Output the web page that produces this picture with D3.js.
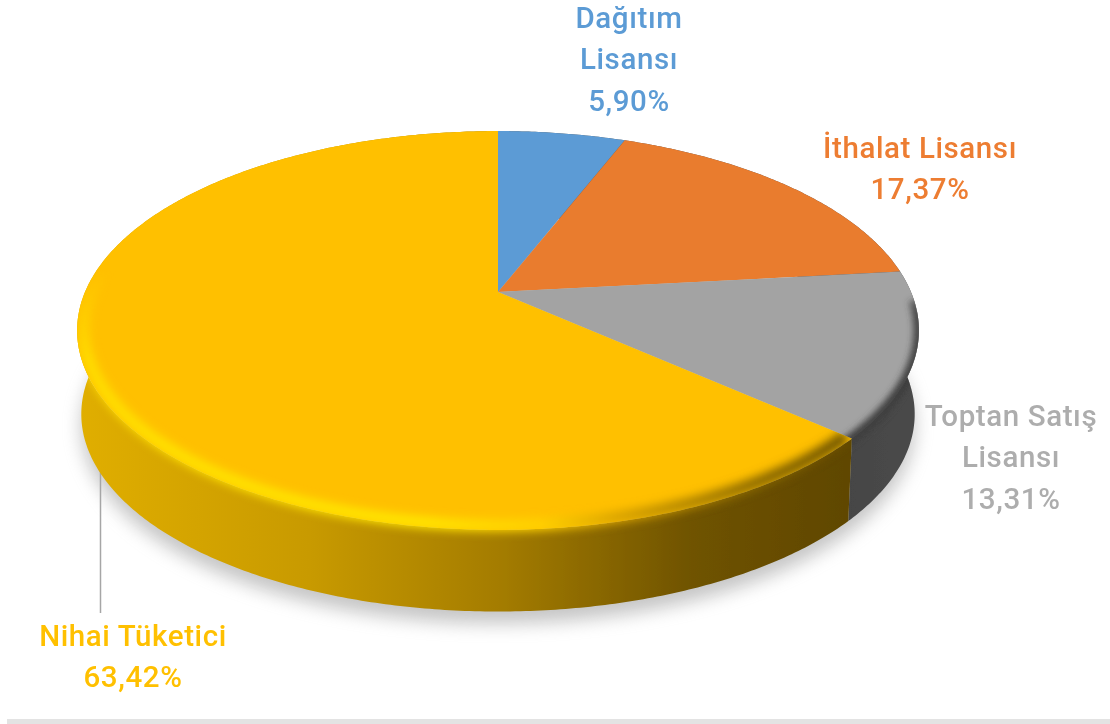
<!DOCTYPE html>
<html><head><meta charset="utf-8">
<script src="https://cdn.jsdelivr.net/npm/d3@7"></script>
<style>html,body{margin:0;padding:0;background:#fff}svg{display:block}text{font-family:Roboto,sans-serif;font-weight:500;font-size:29.5px;letter-spacing:0.6px}</style>
</head><body><svg id="c" width="1110" height="724"></svg>
<script>
const categories = ["Dağıtım Lisansı","İthalat Lisansı","Toptan Satış Lisansı","Nihai Tüketici"];
const values = [5.90,17.37,13.31,63.42];
const colors = ["#5b9bd5","#e97b2f","#a3a3a3","#ffc000"];
const labelLines = [["Dağıtım","Lisansı"],["İthalat Lisansı"],["Toptan Satış","Lisansı"],["Nihai Tüketici"]];
const labelColors = ["#5b9bd5","#ed7d31","#adadad","#ffc000"];
const labelAnchors = [[629,27.5],[920,157.5],[1011,425.5],[133,645.5]];

const W=1110,H=724, lineH=41.5;
const cx=498, cy=292, A=413, B=192, K=0.193, drop=84, shrink=0.99;
const svg=d3.select("#c");
const defs=svg.append("defs");
const fmt=d3.formatLocale({decimal:",",thousands:".",grouping:[3],currency:["","%"]}).format(".2f");

const arcs=d3.pie().sort(null).value(d=>d)(values);
function proj(a,r=1,s=1,dy=0){
  const x=r*Math.sin(a), y=-r*Math.cos(a), w=1-K*y;
  return [cx+s*A*x/w, cy+dy+s*B*y/w];
}
const line=d3.line();
const samples=(a0,a1)=>{const n=Math.max(2,Math.ceil((a1-a0)/0.01));return d3.range(n+1).map(i=>a0+(a1-a0)*i/n)};

function blur(id,sd){defs.append("filter").attr("id",id).attr("filterUnits","userSpaceOnUse").attr("x",0).attr("y",0).attr("width",W).attr("height",H)
  .append("feGaussianBlur").attr("stdDeviation",sd);}
blur("shadow",9);blur("bev",5);blur("bev2",3);blur("soft",0.55);

function grad(id,x1,y1,x2,y2,stops){
  const g=defs.append("linearGradient").attr("id",id).attr("gradientUnits","userSpaceOnUse")
    .attr("x1",x1).attr("y1",y1).attr("x2",x2).attr("y2",y2);
  stops.forEach(s=>g.append("stop").attr("offset",s[0]).attr("stop-color",s[1]).attr("stop-opacity",s[2]===undefined?1:s[2]));
}
grad("wallY",80,0,845,0,[[0,"#e0ae00"],[0.3,"#c89a00"],[0.55,"#a47c00"],[0.8,"#6f5300"],[1,"#604700"]]);
grad("wallG",840,0,920,0,[[0,"#454545"],[1,"#4a4a4a"]]);
grad("bevY",78,0,850,0,[[0,"#ffdc00"],[0.1,"#ffe000"],[0.45,"#ffe400"],[0.6,"#ffd000"],[0.7,"#d9a300"],[0.88,"#8a6800"],[1,"#6a5000"]]);
grad("fadeY",0,270,0,360,[[0,"#000"],[1,"#fff"]]);
grad("bevG",0,275,0,400,[[0,"#3a3a3a",0.1],[0.3,"#3a3a3a",0.85],[1,"#3f3f3f",1]]);
defs.append("mask").attr("id","fadeMask").attr("maskUnits","userSpaceOnUse").attr("x",0).attr("y",0).attr("width",W).attr("height",H)
  .append("rect").attr("width",W).attr("height",H).attr("fill","url(#fadeY)");

// drop shadow beneath the solid
const full=samples(0,2*Math.PI);
svg.append("path").attr("d",line(full.map(a=>proj(a,1.0,shrink,drop+12)))+"Z")
  .attr("fill","#8c8c8c").attr("opacity",0.5).attr("filter","url(#shadow)");

// leader line
svg.append("line").attr("x1",100.5).attr("x2",100.5).attr("y1",466).attr("y2",613).attr("stroke","#a6a6a6").attr("stroke-width",1.5);

const main=svg.append("g").attr("filter","url(#soft)");

// walls
const wallFill=["#555","#555","url(#wallG)","url(#wallY)"];
const wallPaths=arcs.map((d,i)=>{
  const s=samples(d.startAngle,d.endAngle);
  const pts=s.map(a=>proj(a)).concat(s.slice().reverse().map(a=>proj(a,1,shrink,drop)));
  const p=line(pts)+"Z";
  main.append("path").attr("d",p).attr("fill",wallFill[i]);
  return p;
});

// top faces; bevel glow is clipped to the slice plus its wall
arcs.forEach((d,i)=>{
  const s=samples(d.startAngle,d.endAngle);
  const path=line([[cx,cy]].concat(s.map(a=>proj(a))))+"Z";
  const cp=defs.append("clipPath").attr("id","cl"+i);
  cp.append("path").attr("d",path);
  cp.append("path").attr("d",wallPaths[i]);
  main.append("path").attr("d",path).attr("fill",colors[i]);
});
arcs.forEach((d,i)=>{
  if(i===3){
    const g=main.append("g").attr("clip-path","url(#cl3)");
    const s2=samples(d.startAngle,d.startAngle+(d.endAngle-d.startAngle)*0.72);
    g.append("g").attr("mask","url(#fadeMask)").append("path").attr("d",line(s2.map(a=>proj(a,0.985)))).attr("fill","none")
      .attr("stroke","url(#bevY)").attr("stroke-width",12).attr("filter","url(#bev)");
  }
  if(i===2){
    const g=main.append("g").attr("clip-path","url(#cl2)");
    const s2=samples(d.startAngle+0.15,d.endAngle+0.1);
    g.append("path").attr("d",line(s2.map(a=>proj(a,1.0)))).attr("fill","none")
      .attr("stroke","url(#bevG)").attr("stroke-width",11).attr("filter","url(#bev2)");
  }
});

// labels
const lab=svg.append("g").attr("text-anchor","middle").attr("filter","url(#soft)");
values.forEach((v,i)=>{
  const [x,y]=labelAnchors[i];
  const t=lab.append("text").attr("fill",labelColors[i]).attr("x",x).attr("y",y);
  labelLines[i].concat(fmt(v)+"%").forEach((l,j)=>{
    t.append("tspan").attr("x",x).attr("y",y+j*lineH).text(l);
  });
});

// bottom rule
svg.append("rect").attr("x",7).attr("y",719).attr("width",W-7).attr("height",5).attr("fill","#e3e3e3");
</script></body></html>
